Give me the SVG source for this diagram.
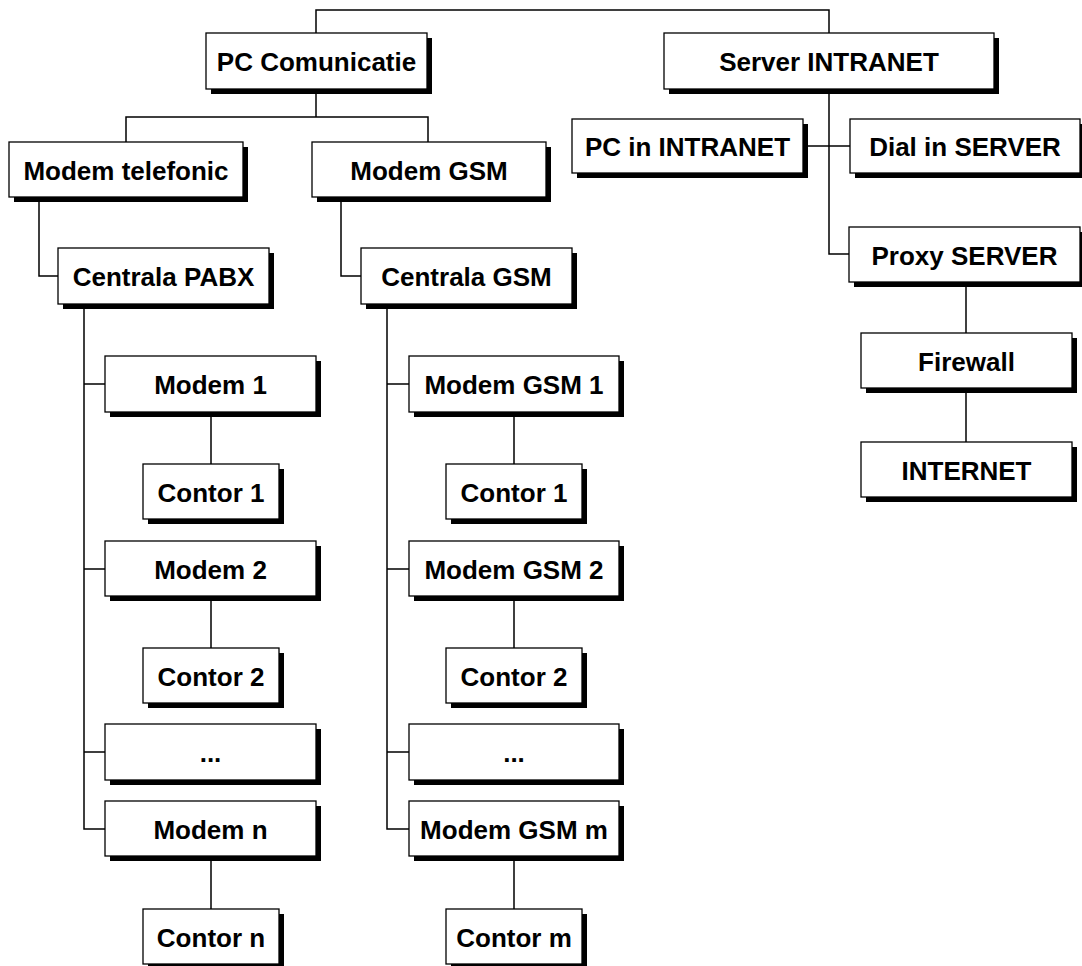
<svg xmlns="http://www.w3.org/2000/svg" width="1082" height="966" viewBox="0 0 1082 966">
<style>
.sh{fill:#000}
.bx{fill:#fff;stroke:#000;stroke-width:1.3}
.t{font-family:"Liberation Sans",Arial,sans-serif;font-weight:bold;font-size:26px;fill:#000;text-anchor:middle}
.c{fill:none;stroke:#000;stroke-width:1.5}
</style>
<rect width="1082" height="966" fill="#fff"/>
<g id="connectors" class="c">
<path d="M316,33 V10 H829 V33"/>
<path d="M316,89 V117"/>
<path d="M126,142 V117 H428 V142"/>
<path d="M829,89 V254 H849"/>
<path d="M803,146 H850"/>
<path d="M966,282 V333"/>
<path d="M966,388 V442"/>
<path d="M39,197 V276 H58"/>
<path d="M341,197 V276 H361"/>
<path d="M84,304 V829 H105"/>
<path d="M84,384 H105 M84,569 H105 M84,752 H105"/>
<path d="M211,412 V464 M211,596 V648 M211,856 V909"/>
<path d="M387,304 V829 H409"/>
<path d="M387,384 H409 M387,569 H409 M387,752 H409"/>
<path d="M514,412 V464 M514,596 V648 M514,856 V909"/>
</g>
<g id="pc-comunicatie"><rect class="sh" x="211" y="38" width="221" height="56"/><rect class="bx" x="206" y="33" width="221" height="56"/><text class="t" x="316.5" y="71">PC Comunicatie</text></g>
<g id="server-intranet"><rect class="sh" x="669" y="38" width="330" height="56"/><rect class="bx" x="664" y="33" width="330" height="56"/><text class="t" x="829" y="71">Server INTRANET</text></g>
<g id="modem-telefonic"><rect class="sh" x="14" y="147" width="234" height="55"/><rect class="bx" x="9" y="142" width="234" height="55"/><text class="t" x="126" y="179.5">Modem telefonic</text></g>
<g id="modem-gsm"><rect class="sh" x="317" y="147" width="234" height="55"/><rect class="bx" x="312" y="142" width="234" height="55"/><text class="t" x="429" y="179.5">Modem GSM</text></g>
<g id="pc-in-intranet"><rect class="sh" x="577" y="124" width="231" height="54"/><rect class="bx" x="572" y="119" width="231" height="54"/><text class="t" x="687.5" y="156">PC in INTRANET</text></g>
<g id="dial-in-server"><rect class="sh" x="855" y="124" width="230" height="54"/><rect class="bx" x="850" y="119" width="230" height="54"/><text class="t" x="965" y="156">Dial in SERVER</text></g>
<g id="proxy-server"><rect class="sh" x="854" y="232" width="231" height="55"/><rect class="bx" x="849" y="227" width="231" height="55"/><text class="t" x="964.5" y="264.5">Proxy SERVER</text></g>
<g id="firewall"><rect class="sh" x="866" y="338" width="211" height="55"/><rect class="bx" x="861" y="333" width="211" height="55"/><text class="t" x="966.5" y="370.5">Firewall</text></g>
<g id="internet"><rect class="sh" x="866" y="447" width="211" height="55"/><rect class="bx" x="861" y="442" width="211" height="55"/><text class="t" x="966.5" y="479.5">INTERNET</text></g>
<g id="centrala-pabx"><rect class="sh" x="63" y="253" width="211" height="56"/><rect class="bx" x="58" y="248" width="211" height="56"/><text class="t" x="163.5" y="286">Centrala PABX</text></g>
<g id="centrala-gsm"><rect class="sh" x="366" y="253" width="211" height="56"/><rect class="bx" x="361" y="248" width="211" height="56"/><text class="t" x="466.5" y="286">Centrala GSM</text></g>
<g id="modem-1"><rect class="sh" x="110" y="361" width="211" height="56"/><rect class="bx" x="105" y="356" width="211" height="56"/><text class="t" x="210.5" y="394">Modem 1</text></g>
<g id="contor-1"><rect class="sh" x="148" y="469" width="136" height="55"/><rect class="bx" x="143" y="464" width="136" height="55"/><text class="t" x="211" y="501.5">Contor 1</text></g>
<g id="modem-2"><rect class="sh" x="110" y="546" width="211" height="55"/><rect class="bx" x="105" y="541" width="211" height="55"/><text class="t" x="210.5" y="578.5">Modem 2</text></g>
<g id="contor-2"><rect class="sh" x="148" y="653" width="136" height="55"/><rect class="bx" x="143" y="648" width="136" height="55"/><text class="t" x="211" y="685.5">Contor 2</text></g>
<g id="dots-1"><rect class="sh" x="110" y="729" width="211" height="56"/><rect class="bx" x="105" y="724" width="211" height="56"/><text class="t" x="210.5" y="762">...</text></g>
<g id="modem-n"><rect class="sh" x="110" y="806" width="211" height="55"/><rect class="bx" x="105" y="801" width="211" height="55"/><text class="t" x="210.5" y="838.5">Modem n</text></g>
<g id="contor-n"><rect class="sh" x="148" y="914" width="136" height="55"/><rect class="bx" x="143" y="909" width="136" height="55"/><text class="t" x="211" y="946.5">Contor n</text></g>
<g id="modem-gsm-1"><rect class="sh" x="414" y="361" width="210" height="56"/><rect class="bx" x="409" y="356" width="210" height="56"/><text class="t" x="514" y="394">Modem GSM 1</text></g>
<g id="contor-gsm-1"><rect class="sh" x="451" y="469" width="136" height="55"/><rect class="bx" x="446" y="464" width="136" height="55"/><text class="t" x="514" y="501.5">Contor 1</text></g>
<g id="modem-gsm-2"><rect class="sh" x="414" y="546" width="210" height="55"/><rect class="bx" x="409" y="541" width="210" height="55"/><text class="t" x="514" y="578.5">Modem GSM 2</text></g>
<g id="contor-gsm-2"><rect class="sh" x="451" y="653" width="136" height="55"/><rect class="bx" x="446" y="648" width="136" height="55"/><text class="t" x="514" y="685.5">Contor 2</text></g>
<g id="dots-2"><rect class="sh" x="414" y="729" width="210" height="56"/><rect class="bx" x="409" y="724" width="210" height="56"/><text class="t" x="514" y="762">...</text></g>
<g id="modem-gsm-m"><rect class="sh" x="414" y="806" width="210" height="55"/><rect class="bx" x="409" y="801" width="210" height="55"/><text class="t" x="514" y="838.5">Modem GSM m</text></g>
<g id="contor-m"><rect class="sh" x="451" y="914" width="136" height="55"/><rect class="bx" x="446" y="909" width="136" height="55"/><text class="t" x="514" y="946.5">Contor m</text></g>
</svg>
